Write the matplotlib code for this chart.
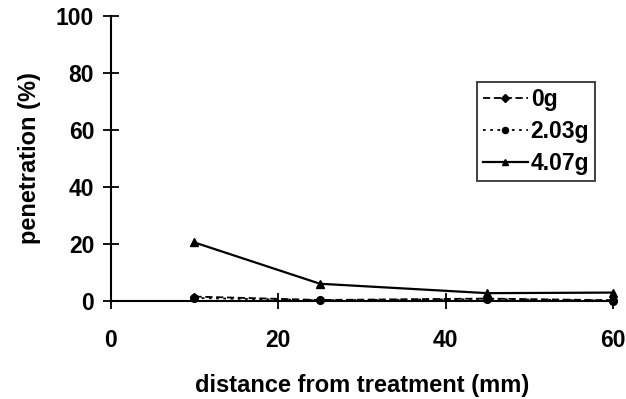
import matplotlib.pyplot as plt

plt.rcParams['font.family'] = ['Liberation Sans', 'DejaVu Sans']
plt.rcParams['font.weight'] = 'bold'

# data
distance = [10, 25, 45, 60]
pen_0g = [1.5, 0.3, 0.8, 0.2]
pen_203g = [1.0, 0.2, 0.6, 0.1]
pen_407g = [20.5, 6.0, 2.7, 2.9]
x_ticks = [0, 20, 40, 60]
y_ticks = [0, 20, 40, 60, 80, 100]

fig = plt.figure(figsize=(6.26, 3.99), dpi=100)
ax = fig.add_axes([0.177, 0.246, 0.802, 0.714])

ax.plot(distance, pen_0g, color="black", linestyle=(0, (4, 2)), linewidth=1.3,
        marker="D", markersize=4.5, label="0g", clip_on=False)
ax.plot(distance, pen_203g, color="black", linestyle=(0, (1.5, 2.5)), linewidth=1.3,
        marker="o", markersize=5.5, label="2.03g", clip_on=False)
ax.plot(distance, pen_407g, color="black", linestyle="-", linewidth=1.6,
        marker="^", markersize=5.5, label="4.07g", clip_on=False)

ax.set_xlim(0, 60)
ax.set_ylim(0, 100)
ax.set_xticks(x_ticks)
ax.set_yticks(y_ticks)
ax.spines["top"].set_visible(False)
ax.spines["right"].set_visible(False)
ax.spines["left"].set_linewidth(1.5)
ax.spines["bottom"].set_linewidth(1.5)
ax.tick_params(axis="x", direction="inout", length=12, width=1.3, pad=14, labelsize=16.5)
ax.tick_params(axis="y", direction="inout", length=12, width=1.3, pad=6, labelsize=16.5)
for lab in ax.get_xticklabels() + ax.get_yticklabels():
    lab.set_fontweight("bold")

ax.set_xlabel("distance from treatment (mm)", fontsize=17, fontweight="bold", labelpad=16)
ax.set_ylabel("penetration (%)", fontsize=17, fontweight="bold", labelpad=11)

leg = ax.legend(loc="upper left", bbox_to_anchor=(0.729, 0.768), fontsize=16.5,
                frameon=True, fancybox=False, edgecolor="black", handlelength=2.0,
                handletextpad=0.1, borderpad=0.25, labelspacing=0.4, borderaxespad=0,
                markerscale=0.8)
leg.get_frame().set_linewidth(1.3)
for t in leg.get_texts():
    t.set_fontweight("bold")

fig.savefig("out.png", dpi=100)
